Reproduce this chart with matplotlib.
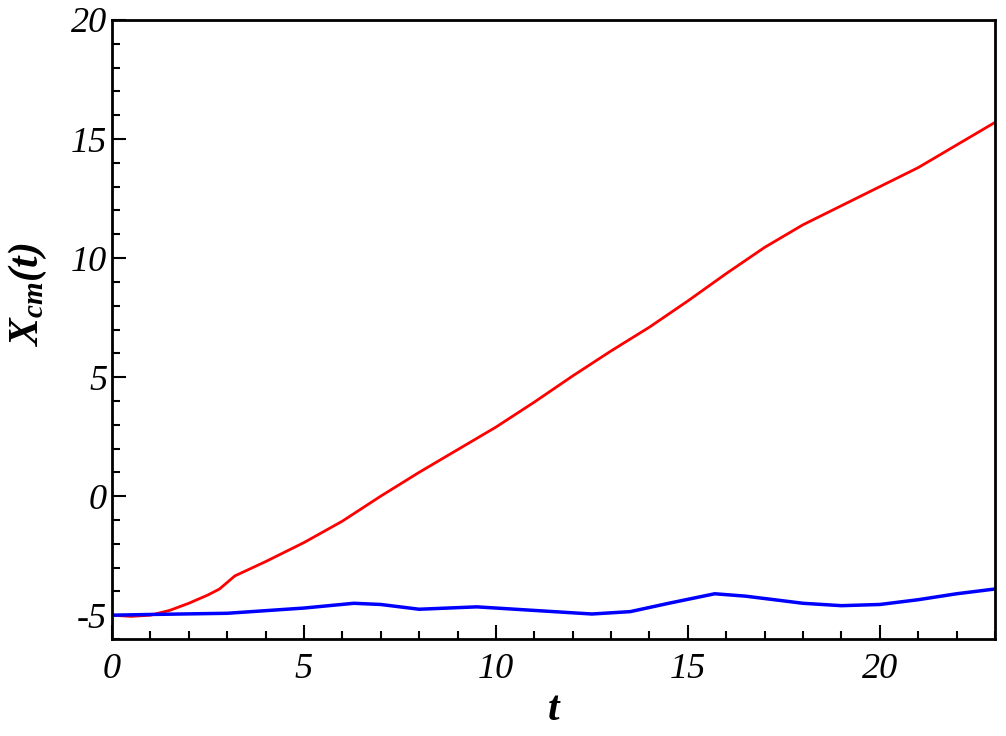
import matplotlib
matplotlib.use("Agg")
import matplotlib.pyplot as plt
from matplotlib.ticker import MultipleLocator

t_red = [0, 0.5, 1, 1.5, 2, 2.5, 2.8, 3.2, 4, 5, 6, 7, 7.5, 8, 9, 10, 11, 12, 13, 14, 15, 16, 17, 18, 19, 20, 21, 22, 23]
x_red = [-5, -5.05, -5.0, -4.8, -4.5, -4.15, -3.9, -3.35, -2.75, -1.95, -1.05, 0.0, 0.5, 1.0, 1.95, 2.9, 3.95, 5.05, 6.1, 7.1, 8.2, 9.35, 10.45, 11.4, 12.2, 13.0, 13.8, 14.75, 15.7]
t_blue = [0, 1, 3, 5, 6.3, 7, 8, 9.5, 11, 12.5, 13.5, 14.5, 15.7, 16.5, 18, 19, 20, 21, 22, 23]
x_blue = [-5, -4.97, -4.92, -4.7, -4.5, -4.55, -4.75, -4.65, -4.8, -4.95, -4.85, -4.5, -4.1, -4.2, -4.5, -4.6, -4.55, -4.35, -4.1, -3.9]

plt.rcParams['font.family'] = ['Liberation Serif', 'DejaVu Serif']
plt.rcParams['axes.unicode_minus'] = False
plt.rcParams['mathtext.fontset'] = 'custom'
plt.rcParams['mathtext.bf'] = 'Liberation Serif:bold:italic'
plt.rcParams['mathtext.rm'] = 'Liberation Serif:bold:italic'
fig = plt.figure(figsize=(10.06, 7.36), dpi=100)
ax = fig.add_axes([112/1006, 1-639/736, (995-112)/1006, (639-20)/736])
ax.plot(t_red, x_red, color='red', lw=2)
ax.plot(t_blue, x_blue, color='blue', lw=2.5)
ax.set_xlim(0, 23)
ax.set_ylim(-6, 20)
ax.xaxis.set_major_locator(MultipleLocator(5))
ax.xaxis.set_minor_locator(MultipleLocator(1))
ax.yaxis.set_major_locator(MultipleLocator(5))
ax.yaxis.set_minor_locator(MultipleLocator(1))
ax.tick_params(which='both', direction='in', labelsize=26, width=1.5)
ax.tick_params(which='major', length=10)
ax.tick_params(which='minor', length=6)
ax.tick_params(axis='x', pad=10)
for l in ax.get_xticklabels() + ax.get_yticklabels():
    l.set_fontstyle('italic')
for s in ax.spines.values():
    s.set_linewidth(2)
ax.set_xlabel('t', fontsize=30, fontweight='bold', style='italic')
fig.text(0.028, 0.60, r'$\mathbf{X_{cm}(t)}$', rotation=90, fontsize=30, va='center', ha='center')
fig.savefig('out.png', dpi=100)
